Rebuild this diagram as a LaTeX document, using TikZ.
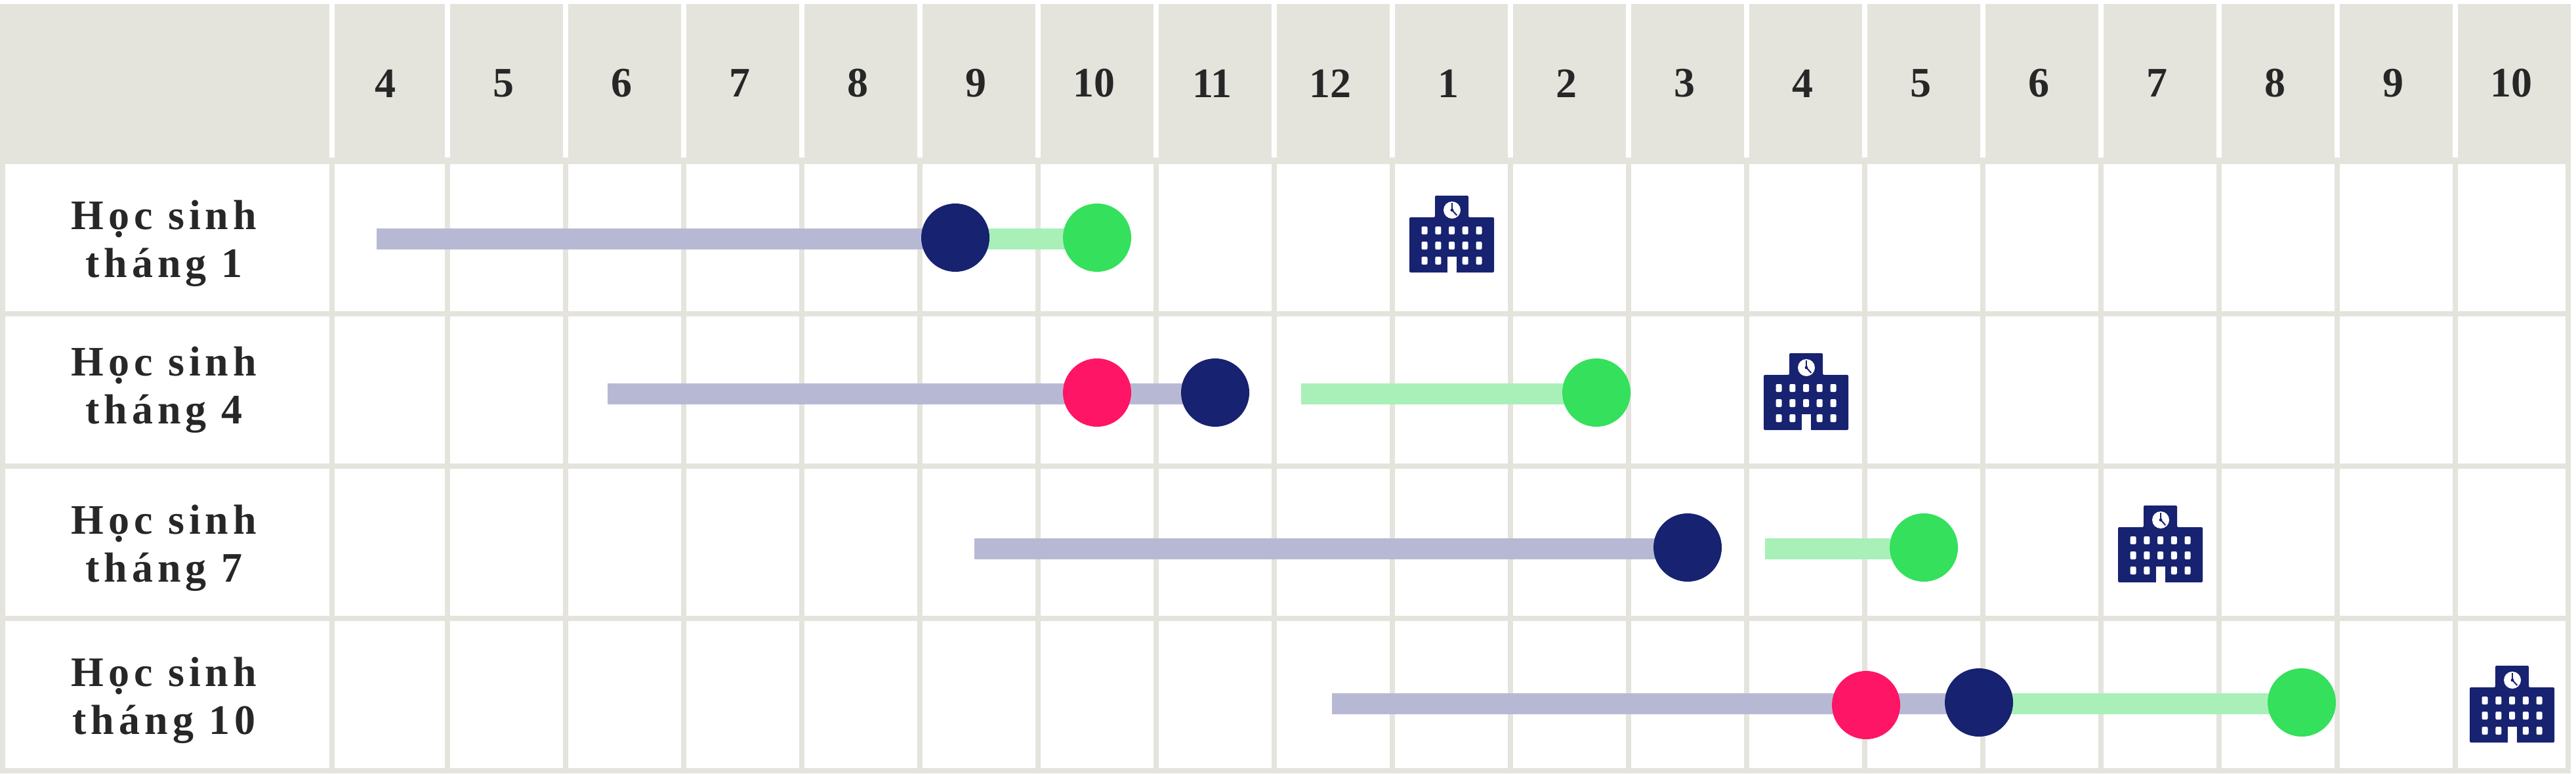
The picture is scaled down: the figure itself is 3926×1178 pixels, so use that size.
\documentclass[tikz,border=0pt]{standalone}
\usepackage{fontspec}
\setmainfont{Liberation Serif}
\newfontfamily\spacedfont[LetterSpace=11]{Liberation Serif}
\definecolor{gridgrey}{HTML}{E4E4DD}
\definecolor{barpurple}{HTML}{B7B9D4}
\definecolor{barmint}{HTML}{A8F0B8}
\definecolor{dotgreen}{HTML}{34E05C}
\definecolor{dotnavy}{HTML}{172270}
\definecolor{dotpink}{HTML}{FF1565}
\definecolor{inkdark}{HTML}{272727}
\pgfdeclarelayer{gridlayer}
\pgfdeclarelayer{barlayer}
\pgfsetlayers{gridlayer,barlayer,main}
\tikzset{
  gridline/.style={draw=gridgrey,line width=2pt},
  headline/.style={draw=white,line width=2pt},
  monthlabel/.style={font=\bfseries\fontsize{16}{16}\selectfont,text=inkdark,inner sep=0pt,anchor=center},
  rowlabel/.style={font=\spacedfont\bfseries\fontsize{16}{18.25}\selectfont,text=inkdark,inner sep=0pt,align=center,anchor=center},
  dot/.style={circle,minimum size=26pt,inner sep=0pt,draw=none},
  navydot/.style={dot,fill=dotnavy},
  greendot/.style={dot,fill=dotgreen},
  pinkdot/.style={dot,fill=dotpink},
  waitbar/.style={draw=barpurple,line width=8pt},
  studybar/.style={draw=barmint,line width=8pt},
  schoolicon/.pic={
    \fill[dotnavy,rounded corners=0.5pt] (-64.5,33) -- (-25.5,33) -- (-25.5,0) -- (25.5,0) -- (25.5,33) -- (64.5,33) -- (64.5,117) -- (-64.5,117) -- cycle;
    \foreach \wx in {-41.5,-20.7,0,20.7,41.5}{
      \foreach \wy in {53,76}{
        \fill[white,rounded corners=0.5pt] (\wx-4.5,\wy-6) rectangle (\wx+4.5,\wy+6);
      }
    }
    \foreach \wx in {-41.5,-20.7,20.7,41.5}{
      \fill[white,rounded corners=0.5pt] (\wx-4.5,93) rectangle (\wx+4.5,105);
    }
    \fill[white] (-7,93) rectangle (7,117.5);
    \fill[white] (0.5,22) circle[radius=3.25pt];
    \draw[dotnavy,line width=0.4pt] (0.5,11) -- (0.5,22);
    \draw[dotnavy,line width=0.5pt] (0.5,22) -- (7.8,30);
    \fill[dotnavy] (0.5,22) circle[radius=0.6pt];
  }
}
\begin{document}
\begin{tikzpicture}[x=0.25pt,y=-0.25pt]
\useasboundingbox (0,0) rectangle (3926,1178);
\begin{pgfonlayer}{gridlayer}
  \fill[white] (0,0) rectangle (3926,1178);
  \fill[gridgrey] (0,6) rectangle (3918,250);
  \foreach \ly in {478,710,942,1174}{
    \draw[gridline] (0,\ly) -- (3918,\ly);
  }
  \foreach \lx in {4,506,682,862,1042,1222,1402,1582,1762,1942,2122,2302,2482,2662,2842,3022,3202,3382,3562,3742,3914}{
    \draw[gridline] (\lx,250) -- (\lx,1178);
  }
  \foreach \lx in {506,682,862,1042,1222,1402,1582,1762,1942,2122,2302,2482,2662,2842,3022,3202,3382,3562,3742}{
    \draw[headline] (\lx,6) -- (\lx,240);
  }
\end{pgfonlayer}

\foreach \m [count=\i from 0] in {4,5,6,7,8,9,10,11,12,1,2,3,4,5,6,7,8,9,10}{
  \node[monthlabel] (month\i) at ({587.5+180*\i},127) {\m};
}

\node[rowlabel] (rowa) at (250,371) {Học sinh\\tháng 1};
\node[rowlabel] (rowb) at (250,594) {Học sinh\\tháng 4};
\node[rowlabel] (rowc) at (250,835) {Học sinh\\tháng 7};
\node[rowlabel] (rowd) at (250,1067) {Học sinh\\tháng 10};

% row 1
\coordinate (wa) at (574,364);
\node[navydot] (na) at (1456,362) {};
\node[greendot] (ga) at (1672,362) {};
% row 2
\coordinate (wb) at (926,600);
\coordinate (sb) at (1983,600);
\node[pinkdot] (pb) at (1672,598) {};
\node[navydot] (nb) at (1852,598) {};
\node[greendot] (gb) at (2433,598) {};
% row 3
\coordinate (wc) at (1485,836);
\coordinate (sc) at (2690,836);
\node[navydot] (nc) at (2572,834) {};
\node[greendot] (gc) at (2932,834) {};
% row 4
\coordinate (wd) at (2030,1072);
\node[pinkdot] (pd) at (2844,1074) {};
\node[navydot] (nd) at (3016,1070) {};
\node[greendot] (gd) at (3508,1070) {};

\begin{pgfonlayer}{barlayer}
  \draw[waitbar] (wa) -- (wa -| na.center);
  \draw[studybar] (wa -| na.center) -- (wa -| ga.center);
  \draw[waitbar] (wb) -- (wb -| nb.center);
  \draw[studybar] (sb) -- (sb -| gb.center);
  \draw[waitbar] (wc) -- (wc -| nc.center);
  \draw[studybar] (sc) -- (sc -| gc.center);
  \draw[waitbar] (wd) -- (wd -| nd.center);
  \draw[studybar] (wd -| nd.center) -- (wd -| gd.center);
\end{pgfonlayer}

\pic at (2212.5,298) {schoolicon};
\pic at (2752.5,538) {schoolicon};
\pic at (3292.5,770) {schoolicon};
\pic at (3828.5,1014) {schoolicon};
\end{tikzpicture}
\end{document}
